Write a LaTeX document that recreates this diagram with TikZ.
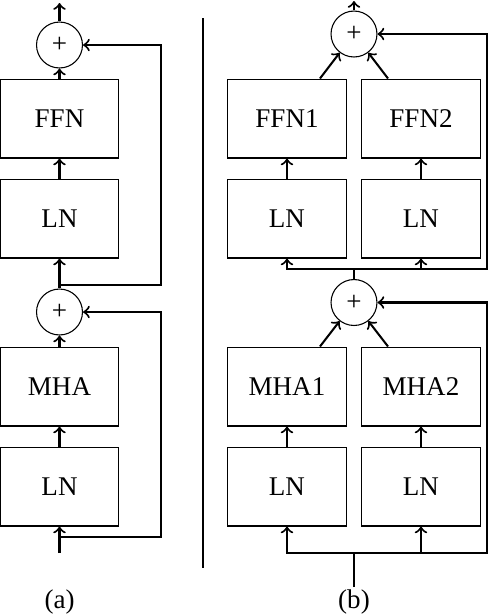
\documentclass[tikz,border=0pt]{standalone}
\usepackage{fontspec}
\setmainfont{Liberation Serif}
\usepackage{tikz}
\usetikzlibrary{positioning}

\begin{document}
\begin{tikzpicture}[x=0.37pt, y=-0.37pt,
                    blk/.style={draw, line width=0.4pt, minimum width=44pt, minimum height=29.2pt, inner sep=0pt},
                    sum/.style={draw, circle, line width=0.4pt, minimum size=17pt, inner sep=0pt},
                    con/.style={line width=0.75pt}]
                      \useasboundingbox (0,0) rectangle (490,616);
                      % (a)
                      \node[blk] (ffna) at (59.5,118.5) {FFN};
                      \node[blk] (lna1) at (59.5,218.5) {LN};
                      \node[blk] (mhaa) at (59.5,386.5) {MHA};
                      \node[blk] (lna2) at (59.5,486.5) {LN};
                      \node[sum] (suma1) at (59.5,45) {+};
                      \node[sum] (suma2) at (59.5,312) {+};
                      \coordinate (ina) at (59.5,553);
                      \coordinate (outa) at (59.5,3);
                      \coordinate (ra1) at (59.5,537);
                      \coordinate (ra2) at (161,312);
                      \coordinate (rb1) at (59.5,285);
                      \coordinate (rb2) at (161,45);
                      \draw[con, ->] (ina) -- (lna2);
                      \draw[con, ->] (lna2) -- (mhaa);
                      \draw[con, ->] (mhaa) -- (suma2);
                      \draw[con, ->] (ra1) -| (ra2) -- (suma2);
                      \draw[con, ->] (suma2) -- (lna1);
                      \draw[con, ->] (lna1) -- (ffna);
                      \draw[con, ->] (ffna) -- (suma1);
                      \draw[con, ->] (rb1) -| (rb2) -- (suma1);
                      \draw[con, ->] (suma1) -- (outa);
                      \node (capa) at (59.5,602) {(a)};
                      % divider
                      \draw[con] (203,18) -- (203,568);
                      % (b)
                      \node[blk] (ffnb1) at (287,118.5) {FFN1};
                      \node[blk] (ffnb2) at (421,118.5) {FFN2};
                      \node[blk] (lnb1) at (287,218.5) {LN};
                      \node[blk] (lnb2) at (421,218.5) {LN};
                      \node[blk] (mhab1) at (287,386.5) {MHA1};
                      \node[blk] (mhab2) at (421,386.5) {MHA2};
                      \node[blk] (lnb3) at (287,486.5) {LN};
                      \node[blk] (lnb4) at (421,486.5) {LN};
                      \node[sum] (sumb1) at (354,34) {+};
                      \node[sum] (sumb2) at (354,302.5) {+};
                      \coordinate (inb) at (354,587);
                      \coordinate (jb1) at (354,553);
                      \coordinate (jb2) at (354,269);
                      \coordinate (rc) at (487,302.5);
                      \coordinate (rd) at (487,34);
                      \coordinate (outb) at (354,1);
                      \draw[con] (inb) -- (jb1);
                      \draw[con, ->] (jb1) -| (lnb3);
                      \draw[con, ->] (jb1) -| (lnb4);
                      \draw[con, ->] (jb1) -| (rc) -- (sumb2);
                      \draw[con, ->] (lnb3) -- (mhab1);
                      \draw[con, ->] (lnb4) -- (mhab2);
                      \draw[con, ->] ([xshift=-10pt]mhab1.north east) -- (sumb2);
                      \draw[con, ->] ([xshift=10pt]mhab2.north west) -- (sumb2);
                      \draw[con] (sumb2) -- (jb2);
                      \draw[con, ->] (jb2) -| (lnb1);
                      \draw[con, ->] (jb2) -| (lnb2);
                      \draw[con, ->] (jb2) -| (rd) -- (sumb1);
                      \draw[con, ->] (lnb1) -- (ffnb1);
                      \draw[con, ->] (lnb2) -- (ffnb2);
                      \draw[con, ->] ([xshift=-10pt]ffnb1.north east) -- (sumb1);
                      \draw[con, ->] ([xshift=10pt]ffnb2.north west) -- (sumb1);
                      \draw[con, ->] (sumb1) -- (outb);
                      \node (capb) at (354,602) {(b)};
                  \end{tikzpicture}
\end{document}
